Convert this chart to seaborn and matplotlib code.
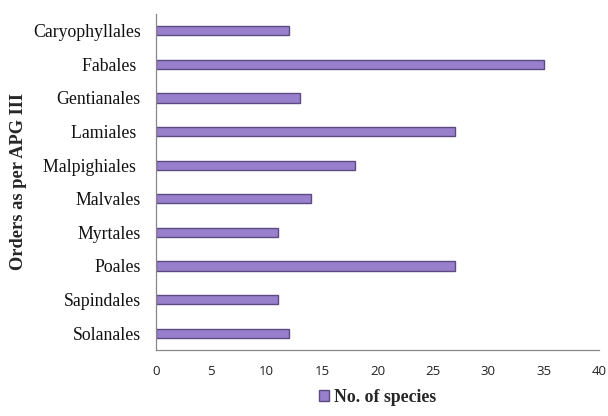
import matplotlib
matplotlib.use("Agg")
import matplotlib.pyplot as plt
import seaborn as sns
import pandas as pd
from matplotlib.patches import Patch

orders = ["Caryophyllales", "Fabales ", "Gentianales", "Lamiales ", "Malpighiales ",
          "Malvales", "Myrtales", "Poales", "Sapindales", "Solanales"]
species = [12, 35, 13, 27, 18, 14, 11, 27, 11, 12]
xticks = [0, 5, 10, 15, 20, 25, 30, 35, 40]

df = pd.DataFrame({"order": orders, "species": species})

sns.set_style("white")
fig = plt.figure(figsize=(6.08, 4.16), dpi=100)
ax = fig.add_axes([156/608, 1-350/416, (599-156)/608, (350-14)/416])

sns.barplot(data=df, x="species", y="order", orient="h", width=0.27,
            color="#9880cc", edgecolor="#5e4a82", linewidth=1.0, ax=ax, saturation=1)

ax.set_xlim(0, 40)
ax.set_ylim(9.5, -0.5)
ax.set_xticks(xticks)
ax.set_xticklabels([str(t) for t in xticks], fontfamily="Open Sans", fontsize=9.5, color="#222222")
ax.set_yticks(range(len(orders)))
ax.set_yticklabels(orders, fontfamily="Liberation Serif", fontsize=12.8, color="#111111")
ax.tick_params(axis="x", direction="out", length=4, width=0.8, color="#888888", pad=7)
ax.tick_params(axis="y", length=0, pad=11)
for s in ["top", "right"]:
    ax.spines[s].set_visible(False)
for s in ["left", "bottom"]:
    ax.spines[s].set_color("#888888")
    ax.spines[s].set_linewidth(0.9)
ax.set_xlabel("")
ax.set_ylabel("Orders as per APG III", fontfamily="Liberation Serif", fontsize=13.2,
              fontweight="bold", labelpad=4)

handles = [Patch(facecolor="#9880cc", edgecolor="#5e4a82", label="No. of species")]
leg = fig.legend(handles=handles, loc="center", bbox_to_anchor=(378/608, 1-397/416),
                 frameon=False, handlelength=0.55, handleheight=0.55, handletextpad=0.3,
                 prop={"family": "Liberation Serif", "weight": "bold", "size": 12.8})

fig.savefig("out.png", dpi=100)
